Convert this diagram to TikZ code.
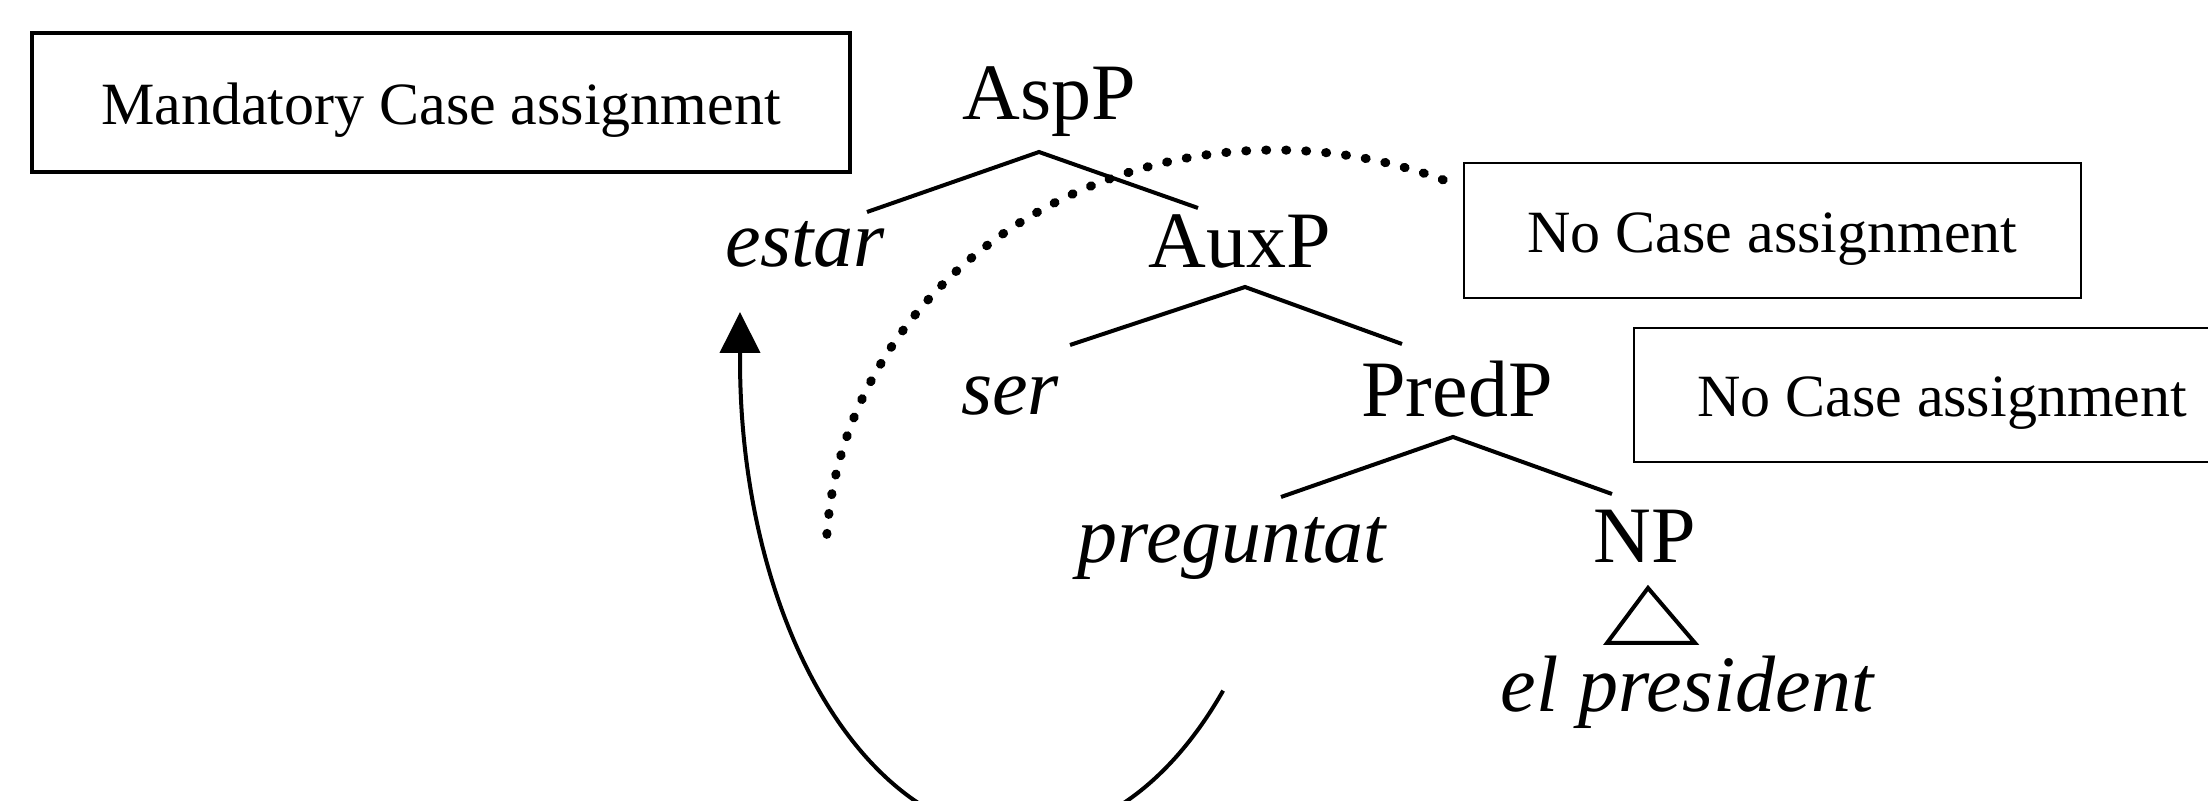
\documentclass[tikz,border=0pt]{standalone}
\usepackage{fontspec}
\setmainfont{Liberation Serif}
\usetikzlibrary{arrows.meta}
\begin{document}
\begin{tikzpicture}[x=0.5pt,y=-0.5pt,
  treelabel/.style={inner sep=0pt, anchor=base, font=\fontsize{40}{48}\selectfont},
  treeword/.style={treelabel, font=\fontsize{40}{48}\selectfont\itshape},
  casebox/.style={draw, line width=1.3pt, inner sep=0pt, text height=24pt, text depth=2pt,
     font=\fontsize{30}{36}\selectfont},
  branch/.style={line width=2pt},
  dotline/.style={line width=4.5pt, line cap=round, dash pattern=on 0.5pt off 9.5pt},
  movearrow/.style={line width=2pt, -{Triangle[length=20.5pt,width=20pt]}}
]
\useasboundingbox (0,0) rectangle (2208,801);
\clip (0,0) rectangle (2208,801);

% boxes
\node[casebox, line width=2.2pt, minimum width=409pt, minimum height=69.5pt] (mand) at (441,102.5) {Mandatory Case assignment};
\node[casebox, minimum width=308.5pt, minimum height=67.5pt] (nocase1) at (1772.5,230.5) {No Case assignment};
\node[casebox, minimum width=308pt, minimum height=67pt] (nocase2) at (1942,395) {No Case assignment};

% tree labels
\node[treelabel] (AspP) at (1049,120) {AspP};
\node[treeword] (estar) at (805,267) {estar};
\node[treelabel] (AuxP) at (1240,268) {AuxP};
\node[treeword] (ser) at (1010,415) {ser};
\node[treelabel] (PredP) at (1457,417) {PredP};
\node[treeword] (preguntat) at (1232,563) {preguntat};
\node[treelabel] (NP) at (1645,563) {NP};
\node[treeword] (elpres) at (1687,712) {el president};

% branch points
\coordinate (AspPb) at (1039,152);
\coordinate (estart) at (867,212);
\coordinate (AuxPt) at (1198,208);
\coordinate (AuxPb) at (1245,287);
\coordinate (sert) at (1070,345);
\coordinate (PredPt) at (1402,344);
\coordinate (PredPb) at (1453,437);
\coordinate (pregt) at (1281,497);
\coordinate (NPt) at (1612,494);
\coordinate (NPb) at (1648,588);
\coordinate (triL) at (1607,643);
\coordinate (triR) at (1695,643);

\draw[branch] (estart) -- (AspPb) -- (AuxPt);
\draw[branch] (sert) -- (AuxPb) -- (PredPt);
\draw[branch] (pregt) -- (PredPb) -- (NPt);
\draw[branch, line join=miter] (NPb) -- (triL) -- (triR) -- cycle;

% dotted arc
\draw[dotline] plot[domain=-68:-178, samples=80, smooth] ({1275+449*cos(\x)},{560+410*sin(\x)});

% movement arrow
\coordinate (arrowtip) at (740,312);
\draw[movearrow] plot[domain=44:180, samples=80, smooth] ({1021+281*cos(\x)},{360+476*sin(\x)}) -- (arrowtip);
\end{tikzpicture}
\end{document}
